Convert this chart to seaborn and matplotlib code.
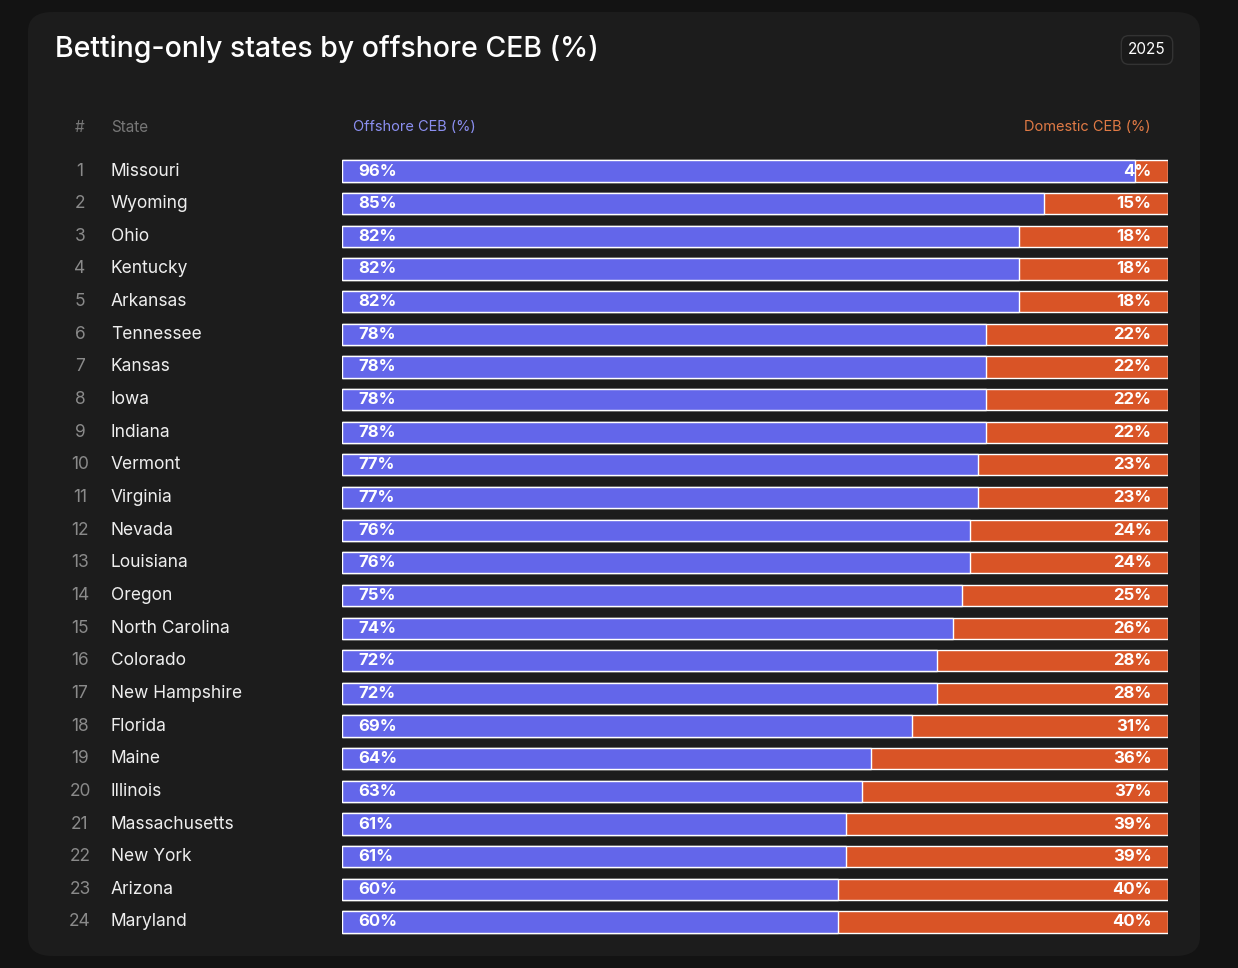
import matplotlib.pyplot as plt
import seaborn as sns
import pandas as pd
from matplotlib.patches import FancyBboxPatch

states = ["Missouri", "Wyoming", "Ohio", "Kentucky", "Arkansas", "Tennessee", "Kansas", "Iowa",
          "Indiana", "Vermont", "Virginia", "Nevada", "Louisiana", "Oregon", "North Carolina",
          "Colorado", "New Hampshire", "Florida", "Maine", "Illinois", "Massachusetts",
          "New York", "Arizona", "Maryland"]
offshore = [96, 85, 82, 82, 82, 78, 78, 78, 78, 77, 77, 76, 76, 75, 74, 72, 72, 69, 64, 63, 61, 61, 60, 60]
domestic = [4, 15, 18, 18, 18, 22, 22, 22, 22, 23, 23, 24, 24, 25, 26, 28, 28, 31, 36, 37, 39, 39, 40, 40]

df = pd.DataFrame({"state": states, "offshore": offshore, "domestic": domestic})
df["total"] = df["offshore"] + df["domestic"]

BLUE = "#6366ea"
ORANGE = "#d95426"
W, H = 1238, 968

sns.set_theme(style="white")
plt.rcParams['font.family'] = ['Inter', 'DejaVu Sans']

fig = plt.figure(figsize=(W / 100, H / 100), dpi=100, facecolor="#131313")
fig.patches.append(FancyBboxPatch((28 / W, 12 / H), 1172 / W, 944 / H,
                                  boxstyle="round,pad=0,rounding_size=0.02",
                                  transform=fig.transFigure, facecolor="#1c1c1c",
                                  edgecolor="none", zorder=-1))

def fx(x): return x / W
def fy(y): return 1 - y / H

fig.text(fx(55), fy(49), "Betting-only states by offshore CEB (%)", color="white",
         fontsize=20.5, va="center", ha="left", fontweight="medium")
fig.text(fx(1147), fy(50), "2025", color="white", fontsize=11, ha="center", va="center",
         bbox=dict(boxstyle="round,pad=0.45,rounding_size=0.5", fc="#1a1a1a", ec="#333333"))
fig.text(fx(80), fy(127), "#", color="#777777", fontsize=11, ha="center", va="center")
fig.text(fx(111), fy(127), "State", color="#777777", fontsize=11, ha="left", va="center")
fig.text(fx(353), fy(127), "Offshore CEB (%)", color="#8b8ff0", fontsize=10.5, ha="left", va="center")
fig.text(fx(1151), fy(127), "Domestic CEB (%)", color="#e07a45", fontsize=10.5, ha="right", va="center")

row0, step = 171, (922 - 171) / 23
top, bottom = row0 - step / 2, 922 + step / 2
ax = fig.add_axes([fx(342), 1 - bottom / H, (1168 - 342) / W, (bottom - top) / H])
ax.set_facecolor("none")
ax.set_zorder(2)

sns.barplot(data=df, x="total", y="state", color=ORANGE, width=0.65, ax=ax,
            saturation=1, orient="h")
sns.barplot(data=df, x="offshore", y="state", color=BLUE, width=0.65, ax=ax,
            saturation=1, orient="h")
ax.set_xlim(0, 100)
ax.set_ylim(23.5, -0.5)
ax.axis("off")

for i, (s, o, d) in enumerate(zip(states, offshore, domestic)):
    y = row0 + i * step
    fig.text(fx(80), fy(y), str(i + 1), color="#8a8a8a", fontsize=12.5, ha="center", va="center")
    fig.text(fx(111), fy(y), s, color="#eeeeee", fontsize=12.5, ha="left", va="center")
    ax.text(2, i, f"{o}%", color="white", fontsize=12, fontweight="bold", ha="left", va="center")
    ax.text(98, i, f"{d}%", color="white", fontsize=12, fontweight="bold", ha="right", va="center")

fig.savefig("out.png", dpi=100, facecolor=fig.get_facecolor())
